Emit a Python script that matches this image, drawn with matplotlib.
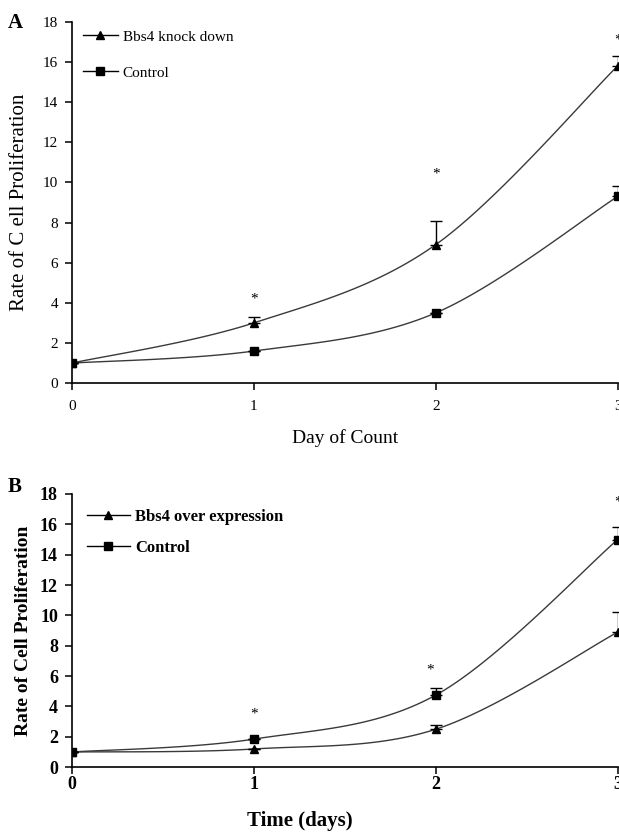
import numpy as np
import matplotlib.pyplot as plt

plt.rcParams['font.family'] = ['Liberation Serif', 'DejaVu Serif']

days = [0, 1, 2, 3]

# panel A
kd_vals = [1.0, 3.0, 6.9, 15.8]
kd_err = [0.0, 0.3, 1.15, 0.5]
ctl_a_vals = [1.0, 1.6, 3.5, 9.3]
ctl_a_err = [0.0, 0.0, 0.0, 0.5]
star_a_x = [1, 2, 3]
star_a_y = [4.2, 10.4, 17.1]

# panel B
oe_vals = [1.0, 1.2, 2.5, 8.9]
oe_err = [0.0, 0.0, 0.3, 1.3]
ctl_b_vals = [1.0, 1.85, 4.75, 15.0]
ctl_b_err = [0.0, 0.0, 0.45, 0.85]
star_b_x = [1, 1.97, 3]
star_b_y = [3.5, 6.4, 17.5]


def smooth(x, y, n=40):
    # Excel-style smoothed line (cubic Bezier through the points)
    x = np.asarray(x, float)
    y = np.asarray(y, float)
    px, py = [], []
    for i in range(len(x) - 1):
        x0, y0 = (x[i - 1], y[i - 1]) if i > 0 else (x[i], y[i])
        x3, y3 = (x[i + 2], y[i + 2]) if i + 2 < len(x) else (x[i + 1], y[i + 1])
        c1x = x[i] + (x[i + 1] - x0) / 6
        c1y = y[i] + (y[i + 1] - y0) / 6
        c2x = x[i + 1] - (x3 - x[i]) / 6
        c2y = y[i + 1] - (y3 - y[i]) / 6
        t = np.linspace(0, 1, n)
        px.append((1-t)**3*x[i] + 3*(1-t)**2*t*c1x + 3*(1-t)*t**2*c2x + t**3*x[i+1])
        py.append((1-t)**3*y[i] + 3*(1-t)**2*t*c1y + 3*(1-t)*t**2*c2y + t**3*y[i+1])
    return np.concatenate(px), np.concatenate(py)


def draw(ax, series, weight, fs, pad):
    for vals, err, mk, lab in series:
        sx, sy = smooth(days, vals)
        ax.plot(sx, sy, color='#3a3a3a', lw=1.0, zorder=2)
        ax.errorbar(days, vals, yerr=[np.zeros(4), err], fmt='none',
                    ecolor='black', elinewidth=1, capsize=4, capthick=1, zorder=3)
        ax.plot(days, vals, mk, color='black', ms=6, ls='none', zorder=4)
        ax.plot([], [], '-' + mk, color='black', ms=6, lw=1, label=lab)
    ax.set_xlim(0, 3)
    ax.set_ylim(0, 18)
    ax.set_xticks(days)
    ax.set_yticks(range(0, 19, 2))
    for s in ['top', 'right']:
        ax.spines[s].set_visible(False)
    for s in ['left', 'bottom']:
        ax.spines[s].set_linewidth(1.2)
    ax.tick_params(direction='out', length=5, width=1.1, labelsize=fs)
    ax.tick_params(axis='x', pad=pad)
    ax.tick_params(axis='y', pad=5)
    for t in ax.get_xticklabels() + ax.get_yticklabels():
        t.set_fontweight(weight)


fig = plt.figure(figsize=(6.19, 8.33), dpi=100)

ax1 = fig.add_axes([0.116, 0.540, 0.882, 0.434])
draw(ax1, [(kd_vals, kd_err, '^', 'Bbs4 knock down'),
           (ctl_a_vals, ctl_a_err, 's', 'Control')], 'normal', 11, 7)
for x, y in zip(star_a_x, star_a_y):
    ax1.text(x, y, '*', ha='center', va='center', fontsize=11)
ax1.set_ylabel('Rate of C ell Proliferation', fontsize=15, labelpad=10)
ax1.set_xlabel('Day of Count', fontsize=14, labelpad=12)
ax1.legend(loc='upper left', bbox_to_anchor=(-0.005, 1.015), frameon=False,
           fontsize=11, handlelength=2.3, handletextpad=0.3, labelspacing=1.45)
fig.text(0.012, 0.972, 'A', fontsize=15, fontweight='bold', va='center')

ax2 = fig.add_axes([0.116, 0.079, 0.882, 0.328])
draw(ax2, [(oe_vals, oe_err, '^', 'Bbs4 over expression'),
           (ctl_b_vals, ctl_b_err, 's', 'Control')], 'bold', 13, 1)
for x, y in zip(star_b_x, star_b_y):
    ax2.text(x, y, '*', ha='center', va='center', fontsize=11)
ax2.set_ylabel('Rate of Cell Proliferation', fontsize=14, fontweight='bold', labelpad=6)
ax2.set_xlabel('Time (days)', fontsize=15, fontweight='bold')
ax2.xaxis.set_label_coords(0.418, -0.16)
leg = ax2.legend(loc='upper left', bbox_to_anchor=(0.0, 1.0), frameon=False,
                 fontsize=12, handlelength=2.6, handletextpad=0.3, labelspacing=0.9)
for t in leg.get_texts():
    t.set_fontweight('bold')
fig.text(0.012, 0.415, 'B', fontsize=15, fontweight='bold', va='center')

fig.savefig('out.png', dpi=100)
